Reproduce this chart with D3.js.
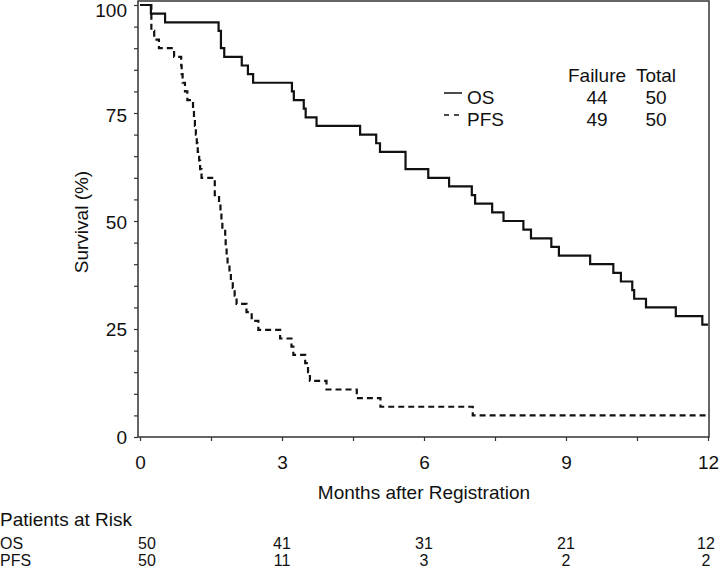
<!DOCTYPE html>
<html>
<head>
<meta charset="utf-8">
<script src="https://cdn.jsdelivr.net/npm/d3@7"></script>
<style>
html,body{margin:0;padding:0;background:#fff;}
svg text{font-family:"Liberation Sans",Arial,Helvetica,sans-serif;fill:#111;}
</style>
</head>
<body>
<svg id="chart" width="720" height="570"></svg>
<script>
// ---- data ----
const osTime = [0, 0.23, 0.53, 1.66, 1.71, 1.78, 2.15, 2.28, 2.39, 3.21, 3.25, 3.46, 3.50, 3.73, 4.65, 4.99, 5.07, 5.61, 6.09, 6.53, 7.01, 7.08, 7.44, 7.68, 8.10, 8.26, 8.69, 8.85, 9.51, 10.0, 10.16, 10.40, 10.44, 10.69, 11.32, 11.88, 12];
const osSurv = [100, 98, 96, 94, 90, 88, 86, 84, 82, 80, 78, 76, 74, 72, 70, 68, 66, 62, 60, 58, 56, 54, 52, 50, 48, 46, 44, 42, 40, 38, 36, 34, 32, 30, 28, 26, 26];
const pfsTime = [0, 0.24, 0.30, 0.40, 0.72, 0.87, 0.88, 0.90, 0.95, 1.00, 1.12, 1.14, 1.16, 1.18, 1.20, 1.22, 1.25, 1.27, 1.30, 1.58, 1.67, 1.70, 1.72, 1.74, 1.80, 1.81, 1.83, 1.85, 1.89, 1.92, 1.96, 2.0, 2.04, 2.25, 2.36, 2.50, 2.96, 3.20, 3.24, 3.49, 3.55, 3.59, 3.94, 4.58, 5.08, 7.03, 12];
const pfsSurv = [100, 94, 92, 90, 88, 86, 84, 82, 80, 78, 76, 74, 72, 70, 68, 66, 64, 62, 60, 56, 54, 52, 50, 48, 46, 44, 42, 40, 38, 36, 34.5, 32.7, 30.8, 28.9, 26.9, 24.8, 22.8, 20.9, 19, 17.1, 15, 13, 11, 9, 7, 5, 5];
const xTickValues = [0, 1.5, 3, 4.5, 6, 7.5, 9, 10.5, 12];
const xTickLabels = ["0", "", "3", "", "6", "", "9", "", "12"];
const yTickValues = [0,5,10,15,20,25,30,35,40,45,50,55,60,65,70,75,80,85,90,95,100];
const yTickLabelValues = [0, 25, 50, 75, 100];
const legendNames = ["OS", "PFS"];
const legendFailure = [44, 49];
const legendTotal = [50, 50];
const riskTimes = [0, 3, 6, 9, 12];
const riskOS = [50, 41, 31, 21, 12];
const riskPFS = [50, 11, 3, 2, 2];

// ---- layout ----
const svg = d3.select("#chart");
const fs = 19;
const fsRisk = 16;
const x = d3.scaleLinear().domain([0, 12]).range([140, 708]);
const y = d3.scaleLinear().domain([0, 100]).range([437, 5]);

// frame
svg.append("rect").attr("x", 138).attr("y", 1).attr("width", 571).attr("height", 436)
  .attr("fill", "none").attr("stroke", "#333").attr("stroke-width", 1.5);

// x axis
const xAxis = d3.axisBottom(x).tickValues(xTickValues)
  .tickFormat((d, i) => xTickLabels[i]).tickSize(4).tickPadding(15).tickSizeOuter(0);
const gx = svg.append("g").attr("transform", "translate(0,437)").call(xAxis);
gx.select(".domain").remove();
gx.selectAll("line").attr("stroke", "#333").attr("stroke-width", 1.2);
gx.selectAll("text").style("font-size", fs + "px").attr("fill", "#111");

// y axis
const yAxis = d3.axisLeft(y).tickValues(yTickValues)
  .tickFormat(d => yTickLabelValues.includes(d) ? String(d) : "").tickSize(4).tickPadding(7).tickSizeOuter(0);
const gy = svg.append("g").attr("transform", "translate(138,0)").call(yAxis);
gy.select(".domain").remove();
gy.selectAll("line").attr("stroke", "#333").attr("stroke-width", 1.2);
gy.selectAll("text").style("font-size", fs + "px").attr("fill", "#111")
  .attr("dy", d => d === 100 ? "0.62em" : (d === 75 ? "0.45em" : (d === 50 ? "0.4em" : "0.32em")));

// titles
svg.append("text").attr("x", 424).attr("y", 499).attr("text-anchor", "middle")
  .style("font-size", fs + "px").text("Months after Registration");
svg.append("text").attr("transform", "translate(88,222) rotate(-90)").attr("text-anchor", "middle")
  .style("font-size", fs + "px").text("Survival (%)");

// curves
const line = d3.line().x(d => x(d[0])).y(d => y(d[1])).curve(d3.curveStepAfter);
const osData = osTime.map((t, i) => [t, osSurv[i]]);
const pfsData = pfsTime.map((t, i) => [t, pfsSurv[i]]);
svg.append("path").attr("d", line(pfsData)).attr("fill", "none").attr("stroke", "#111")
  .attr("stroke-width", 2.2).attr("stroke-dasharray", "6,4");
svg.append("path").attr("d", line(osData)).attr("fill", "none").attr("stroke", "#111")
  .attr("stroke-width", 2.2);

// legend
const lg = svg.append("g");
lg.append("text").attr("x", 597).attr("y", 82).attr("text-anchor", "middle").style("font-size", fs + "px").text("Failure");
lg.append("text").attr("x", 656).attr("y", 82).attr("text-anchor", "middle").style("font-size", fs + "px").text("Total");
legendNames.forEach((n, i) => {
  const by = 104 + i * 22;
  lg.append("line").attr("x1", 444).attr("x2", 462).attr("y1", by - 11).attr("y2", by - 11)
    .attr("stroke", "#111").attr("stroke-width", 1.5).attr("stroke-dasharray", i === 1 ? "5,5" : null);
  lg.append("text").attr("x", 467).attr("y", by).style("font-size", fs + "px").text(n);
  lg.append("text").attr("x", 597).attr("y", by).attr("text-anchor", "middle").style("font-size", fs + "px").text(legendFailure[i]);
  lg.append("text").attr("x", 656).attr("y", by).attr("text-anchor", "middle").style("font-size", fs + "px").text(legendTotal[i]);
});

// patients at risk
svg.append("text").attr("x", 0).attr("y", 526).style("font-size", fs + "px").text("Patients at Risk");
svg.append("text").attr("x", 0).attr("y", 549).style("font-size", fsRisk + "px").text("OS");
svg.append("text").attr("x", 0).attr("y", 566).style("font-size", fsRisk + "px").text("PFS");
riskTimes.forEach((t, i) => {
  const px = Math.min(x(t) + (i === 0 ? 7 : 0), 706);
  svg.append("text").attr("x", px).attr("y", 549).attr("text-anchor", "middle").style("font-size", fsRisk + "px").text(riskOS[i]);
  svg.append("text").attr("x", px).attr("y", 566).attr("text-anchor", "middle").style("font-size", fsRisk + "px").text(riskPFS[i]);
});
</script>
</body>
</html>
